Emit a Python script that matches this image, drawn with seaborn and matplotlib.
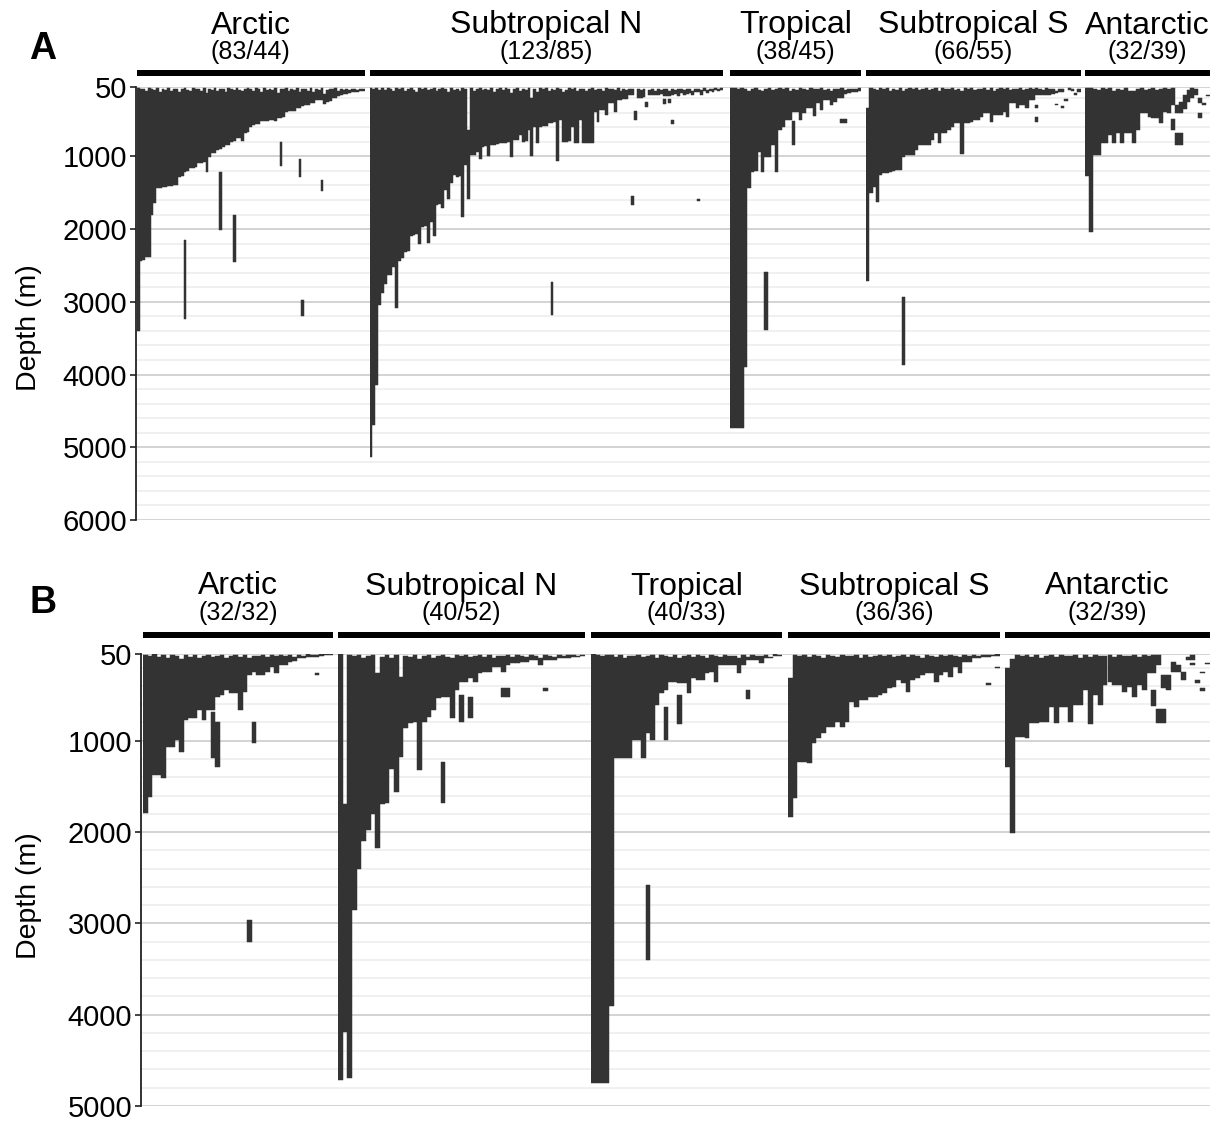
import numpy as np
import pandas as pd
import matplotlib
matplotlib.use("Agg")
import matplotlib.pyplot as plt
from matplotlib.patches import Rectangle
import seaborn as sns

sns.set_theme(style="white")
plt.rcParams["font.family"] = ["Liberation Sans", "DejaVu Sans"]
plt.rcParams["text.color"] = "black"
plt.rcParams["axes.labelcolor"] = "black"

# ---------------------------------------------------------------- data
regions = ["Arctic", "Subtropical N", "Tropical", "Subtropical S", "Antarctic"]
counts_a = ["(83/44)", "(123/85)", "(38/45)", "(66/55)", "(32/39)"]
counts_b = ["(32/32)", "(40/52)", "(40/33)", "(36/36)", "(32/39)"]
ticks_a = [50, 1000, 2000, 3000, 4000, 5000, 6000]
ticks_b = [50, 1000, 2000, 3000, 4000, 5000]

# Panel A: depth ranges (min / max, m) per taxon, ordered within each region
a_arctic_lo = [60, 80, 70, 95, 60, 75, 90, 65, 110, 70,
               85, 60, 100, 75, 80, 120, 70, 60, 90, 105,
               65, 80, 70, 95, 60, 130, 75, 85, 60, 100,
               70, 80, 110, 65, 75, 90, 60, 85, 100, 70,
               60, 80, 95, 65, 75, 110, 60, 85, 70, 90,
               60, 130, 75, 80, 65, 100, 70, 90, 60, 120,
               80, 70, 95, 65, 110, 75, 85, 60, 140, 90,
               70, 80, 65, 100, 75, 90, 70, 85, 80, 75,
               90, 70, 80]
a_arctic_hi = [3400, 2440, 2420, 2380, 2380, 1806, 1645, 1440, 1430, 1420,
               1420, 1410, 1410, 1400, 1400, 1280, 1270, 1210, 1200, 1165,
               1160, 1150, 1095, 1090, 1080, 1210, 1010, 960, 950, 910,
               900, 865, 850, 843, 800, 790, 752, 745, 784, 683,
               670, 590, 570, 555, 550, 520, 515, 510, 500, 495,
               520, 477, 470, 463, 385, 380, 380, 370, 340, 330,
               307, 300, 295, 270, 265, 225, 220, 230, 280, 250,
               240, 200, 195, 170, 160, 147, 140, 125, 120, 115,
               110, 100, 95]
a_arctic_x_idx = [17, 30, 35, 52, 59, 60, 67]
a_arctic_x_lo = [2150, 1220, 1800, 800, 1040, 2980, 1330]
a_arctic_x_hi = [3230, 2010, 2450, 1130, 1280, 3200, 1470]

a_subn_lo = [55, 70, 60, 85, 65, 90, 60, 75, 100, 65,
             80, 60, 95, 70, 60, 85, 110, 65, 75, 60,
             90, 70, 60, 100, 80, 65, 75, 120, 60, 85,
             70, 95, 60, 80, 640, 65, 100, 75, 60, 90,
             70, 85, 60, 110, 75, 65, 90, 60, 80, 130,
             70, 60, 95, 75, 85, 60, 200, 70, 110, 65,
             80, 60, 95, 70, 85, 60, 75, 110, 90, 65,
             80, 60, 100, 75, 70, 95, 80, 65, 85, 70,
             75, 95, 60, 80, 70, 90, 65, 100, 75, 85,
             70, 80, 372, 75, 90, 70, 250, 85, 75, 100,
             70, 90, 80, 75, 95, 70, 85, 80, 75, 90,
             70, 80, 95, 75, 70, 85, 65, 90, 70, 80,
             60, 75, 65]
a_subn_hi = [5130, 4700, 4150, 3050, 2880, 2750, 2630, 2630, 2520, 3090,
             2440, 2400, 2310, 2300, 2090, 2080, 2070, 2210, 1970, 1960,
             2190, 1900, 2100, 1670, 1660, 1710, 1460, 1580, 1370, 1260,
             1280, 1270, 1840, 1120, 1580, 980, 975, 935, 1040, 870,
             860, 995, 845, 840, 835, 815, 810, 810, 805, 1013,
             780, 770, 706, 800, 795, 640, 995, 590, 820, 590,
             585, 580, 540, 535, 530, 1060, 500, 800, 800, 795,
             590, 820, 815, 500, 820, 820, 820, 815, 385, 523,
             362, 360, 431, 270, 265, 385, 225, 220, 215, 210,
             156, 160, 500, 200, 195, 190, 320, 160, 155, 150,
             150, 145, 170, 170, 170, 150, 140, 165, 130, 150,
             140, 125, 160, 120, 110, 156, 100, 130, 95, 110,
             90, 100, 85]
a_subn_x_idx = [63, 91, 102, 104, 105, 114]
a_subn_x_lo = [2730, 1545, 215, 215, 500, 1580]
a_subn_x_hi = [3180, 1668, 280, 270, 560, 1620]

a_trop_lo = [55, 60, 70, 65, 80, 95, 70, 60, 85, 100,
             75, 60, 90, 70, 65, 80, 60, 95, 70, 85,
             60, 75, 90, 65, 80, 70, 60, 85, 75, 95,
             70, 80, 65, 90, 75, 70, 80, 65]
a_trop_hi = [4740, 4740, 4740, 4740, 3900, 1440, 1210, 1205, 940, 1210,
             1005, 1013, 843, 1210, 637, 591, 500, 495, 385, 385,
             500, 400, 340, 340, 445, 270, 362, 225, 225, 293,
             248, 200, 200, 140, 130, 120, 115, 100]
a_trop_x_idx = [10, 18, 32, 33]
a_trop_x_lo = [2585, 520, 480, 490]
a_trop_x_hi = [3390, 840, 540, 545]

a_subs_lo = [340, 60, 75, 90, 65, 80, 60, 100, 70, 85,
             60, 95, 70, 65, 80, 60, 90, 75, 60, 85,
             70, 60, 95, 65, 80, 70, 60, 85, 75, 100,
             65, 80, 60, 90, 70, 75, 60, 85, 65, 95,
             70, 60, 80, 65, 90, 70, 75, 60, 85, 70,
             60, 80, 60, 75, 90, 65, 80, 70, 95, 70,
             80, 215, 65, 80, 130, 75]
a_subs_hi = [2720, 1508, 1416, 1622, 1256, 1233, 1230, 1210, 1205, 1190,
             1187, 1013, 981, 981, 975, 912, 843, 840, 845, 843,
             775, 683, 820, 683, 680, 637, 591, 545, 545, 970,
             545, 540, 523, 500, 500, 454, 408, 405, 523, 431,
             430, 425, 385, 454, 270, 270, 340, 293, 290, 340,
             225, 225, 155, 156, 155, 150, 150, 145, 130, 120,
             110, 235, 90, 100, 156, 120]
a_subs_x_idx = [11, 52, 52, 58, 60]
a_subs_x_lo = [2930, 290, 455, 275, 305]
a_subs_x_hi = [3870, 340, 525, 300, 340]

a_ant_lo = [60, 60, 75, 90, 65, 80, 60, 100, 70, 85,
            65, 95, 100, 70, 60, 85, 75, 65, 90, 70,
            60, 80, 60, 290, 250, 150, 90, 60, 80, 200,
            270, 150]
a_ant_hi = [1270, 2035, 981, 975, 820, 815, 700, 820, 683, 820,
            683, 680, 820, 637, 408, 400, 454, 477, 477, 545,
            385, 408, 300, 410, 400, 350, 250, 200, 160, 270,
            300, 170]
a_ant_x_idx = [22, 23, 24, 29]
a_ant_x_lo = [480, 683, 683, 410]
a_ant_x_hi = [640, 843, 843, 477]

# Panel B
b_arctic_lo = [60, 70, 55, 80, 65, 90, 60, 75, 110, 65,
               80, 60, 95, 70, 60, 85, 70, 60, 90, 75,
               65, 80, 60, 95, 70, 75, 60, 85, 65, 70,
               60, 75, 65, 80, 60, 70, 55, 65, 60, 55,
               55, 55]
b_arctic_hi = [1795, 1612, 1375, 1370, 1410, 1065, 1065, 992, 1120, 773,
               754, 754, 663, 773, 663, 660, 517, 499, 444, 481,
               481, 663, 462, 280, 243, 280, 280, 243, 189, 262,
               170, 165, 134, 130, 97, 95, 80, 80, 80, 75,
               65, 62]
b_arctic_x_idx = [15, 16, 23, 24, 38]
b_arctic_x_lo = [690, 790, 2960, 790, 262]
b_arctic_x_hi = [1190, 1285, 3200, 1030, 284]

b_subn_lo = [55, 1690, 60, 75, 65, 90, 70, 60, 260, 80,
             65, 95, 60, 300, 70, 85, 60, 100, 75, 65,
             90, 70, 60, 80, 95, 65, 75, 60, 85, 70,
             65, 80, 60, 90, 70, 75, 60, 85, 65, 70,
             80, 60, 75, 90, 65, 70, 80, 60, 75, 65,
             60, 70, 60]
b_subn_hi = [4715, 4190, 4690, 2850, 2400, 2100, 1980, 1800, 2180, 1690,
             1685, 1310, 1560, 1175, 865, 810, 800, 1320, 791, 736,
             663, 536, 517, 517, 754, 444, 353, 353, 317, 353,
             262, 243, 243, 189, 189, 243, 170, 152, 152, 134,
             134, 116, 116, 170, 116, 116, 116, 97, 97, 97,
             80, 80, 75]
b_subn_x_idx = [22, 26, 28, 35, 36, 44]
b_subn_x_lo = [1230, 500, 525, 426, 426, 420]
b_subn_x_hi = [1685, 790, 754, 517, 517, 455]

b_trop_lo = [55, 60, 70, 60, 65, 80, 60, 90, 70, 75,
             60, 85, 70, 65, 90, 60, 75, 80, 60, 95,
             70, 65, 80, 60, 75, 90, 65, 70, 85, 60,
             75, 70, 90, 65, 80, 60, 75, 70, 65, 80,
             55, 60]
b_trop_hi = [4745, 4745, 4745, 4745, 3900, 1193, 1190, 1193, 1190, 992,
             990, 1193, 919, 992, 608, 481, 444, 353, 353, 371,
             371, 481, 317, 335, 335, 262, 243, 353, 170, 170,
             170, 165, 262, 170, 116, 116, 116, 152, 97, 97,
             70, 70]
b_trop_x_idx = [12, 16, 19, 34]
b_trop_x_lo = [2580, 627, 500, 444]
b_trop_x_hi = [3400, 992, 817, 546]

b_subs_lo = [316, 60, 70, 65, 80, 60, 75, 90, 65, 70,
             85, 60, 75, 70, 65, 90, 60, 80, 70, 65,
             75, 60, 85, 70, 65, 80, 60, 75, 90, 65,
             70, 80, 60, 75, 65, 70, 85, 60, 75, 65,
             70, 60, 65, 60, 55]
b_subs_hi = [1830, 1630, 1229, 1229, 1247, 1028, 974, 919, 846, 846,
             791, 846, 791, 572, 627, 554, 554, 517, 517, 499,
             481, 426, 408, 335, 371, 462, 335, 317, 280, 262,
             262, 353, 280, 243, 298, 189, 262, 134, 134, 97,
             97, 80, 80, 75, 70]
b_subs_x_idx = [42, 44]
b_subs_x_lo = [371, 189]
b_subs_x_hi = [390, 207]

b_ant_lo = [207, 100, 60, 75, 65, 80, 60, 90, 70, 65,
            85, 60, 75, 70, 60, 90, 65, 80, 60, 75,
            70, 65, 85, 60, 75, 70, 60, 80, 65, 75,
            60, 60, 280, 280, 134, 170, 243, 80, 60, 335,
            426, 152]
b_ant_hi = [1284, 2010, 955, 955, 966, 802, 802, 791, 791, 627,
            809, 627, 627, 791, 608, 608, 444, 817, 499, 608,
            390, 353, 390, 390, 462, 408, 517, 390, 444, 262,
            262, 170, 426, 444, 243, 243, 335, 116, 116, 364,
            452, 160]
b_ant_x_idx = [30, 31, 32, 38, 40]
b_ant_x_lo = [444, 656, 656, 145, 243]
b_ant_x_hi = [620, 809, 809, 170, 262]

# ---------------------------------------------------------------- layout
W, H = 1226, 1121
BAR = "#333333"

panels = [
    dict(letter="A", letter_xy=(29, 59), top=87.3, bottom=520, axis_x=135.5,
         ymax=6000, ticks=ticks_a, counts=counts_a, ylabel_y=328,
         strip_y=(70, 76), name_y=33.5, count_y=59,
         groups=[(137, 364.5), (369.5, 723), (730, 861), (866, 1080.5), (1085, 1210)],
         data=[(a_arctic_lo, a_arctic_hi, a_arctic_x_idx, a_arctic_x_lo, a_arctic_x_hi),
               (a_subn_lo, a_subn_hi, a_subn_x_idx, a_subn_x_lo, a_subn_x_hi),
               (a_trop_lo, a_trop_hi, a_trop_x_idx, a_trop_x_lo, a_trop_x_hi),
               (a_subs_lo, a_subs_hi, a_subs_x_idx, a_subs_x_lo, a_subs_x_hi),
               (a_ant_lo, a_ant_hi, a_ant_x_idx, a_ant_x_lo, a_ant_x_hi)]),
    dict(letter="B", letter_xy=(29, 613), top=654, bottom=1106, axis_x=140.5,
         ymax=5000, ticks=ticks_b, counts=counts_b, ylabel_y=896,
         strip_y=(632, 638), name_y=594.5, count_y=620,
         groups=[(143, 333), (338, 585), (591, 782), (788, 1000), (1005, 1210)],
         data=[(b_arctic_lo, b_arctic_hi, b_arctic_x_idx, b_arctic_x_lo, b_arctic_x_hi),
               (b_subn_lo, b_subn_hi, b_subn_x_idx, b_subn_x_lo, b_subn_x_hi),
               (b_trop_lo, b_trop_hi, b_trop_x_idx, b_trop_x_lo, b_trop_x_hi),
               (b_subs_lo, b_subs_hi, b_subs_x_idx, b_subs_x_lo, b_subs_x_hi),
               (b_ant_lo, b_ant_hi, b_ant_x_idx, b_ant_x_lo, b_ant_x_hi)]),
]

fig = plt.figure(figsize=(W / 100, H / 100), dpi=100)
fig.patch.set_facecolor("white")


def rect(x0, y0, x1, y1):
    """Axes/patch rectangle in figure fractions from pixel corners."""
    return [x0 / W, 1 - y1 / H, (x1 - x0) / W, (y1 - y0) / H]


def floating_bars(ax, lo, hi):
    lo = np.asarray(lo, float)
    hi = np.asarray(hi, float)
    df = pd.DataFrame({"pos": np.arange(len(hi)), "span": hi - lo})
    sns.barplot(data=df, x="pos", y="span", ax=ax, color=BAR, saturation=1,
                width=1, errorbar=None, bottom=lo,
                edgecolor=BAR, linewidth=0.35)


def split_layers(idx, lo, hi):
    layers = []
    for i, a, b in zip(idx, lo, hi):
        for layer in layers:
            if i not in layer:
                layer[i] = (a, b)
                break
        else:
            layers.append({i: (a, b)})
    return layers


for p in panels:
    top, bottom, ymax = p["top"], p["bottom"], p["ymax"]

    # shared depth axis with grid running across all regions
    bg = fig.add_axes(rect(p["axis_x"], top, 1210, bottom))
    bg.set_xlim(0, 1)
    bg.set_ylim(ymax, 50)
    bg.set_xticks([])
    bg.set_yticks(p["ticks"])
    bg.set_yticklabels([str(t) for t in p["ticks"]])
    bg.set_yticks(np.arange(200, ymax + 1, 200), minor=True)
    bg.grid(which="minor", axis="y", color="#ececec", linewidth=1.1)
    bg.grid(which="major", axis="y", color="#cccccc", linewidth=1.2)
    bg.set_axisbelow(True)
    for side in ["top", "right", "bottom"]:
        bg.spines[side].set_visible(False)
    bg.spines["left"].set_color("#222222")
    bg.spines["left"].set_linewidth(1.3)
    bg.tick_params(axis="y", which="major", left=True, length=4.5, width=1.2,
                   color="#222222", labelsize=21, pad=1.5, labelcolor="black")
    bg.tick_params(axis="y", which="minor", left=False, length=0)

    fig.text(29 / W, 1 - p["ylabel_y"] / H, "Depth (m)", rotation=90,
             fontsize=20.5, ha="center", va="center")
    fig.text(p["letter_xy"][0] / W, 1 - p["letter_xy"][1] / H, p["letter"],
             fontsize=27, fontweight="bold", ha="left", va="baseline")

    for (x0, x1), name, cnt, (lo, hi, xi, xlo, xhi) in zip(
            p["groups"], regions, p["counts"], p["data"]):
        ax = fig.add_axes(rect(x0, top, x1, bottom))
        n = len(hi)
        floating_bars(ax, lo, hi)
        for layer in split_layers(xi, xlo, xhi):
            e_lo = [layer[i][0] if i in layer else 0 for i in range(n)]
            e_hi = [layer[i][1] if i in layer else 0 for i in range(n)]
            floating_bars(ax, e_lo, e_hi)
        ax.set_xlim(-0.5, n - 0.5)
        ax.set_ylim(ymax, 50)
        ax.set_axis_off()

        # region strip: name, counts and a heavy rule
        cx = (x0 + x1) / 2
        fig.text(cx / W, 1 - p["name_y"] / H, name, fontsize=23,
                 ha="center", va="baseline")
        fig.text(cx / W, 1 - p["count_y"] / H, cnt, fontsize=18,
                 ha="center", va="baseline")
        sy0, sy1 = p["strip_y"]
        fig.patches.append(Rectangle((x0 / W, 1 - sy1 / H), (x1 - x0) / W,
                                     (sy1 - sy0) / H, transform=fig.transFigure,
                                     facecolor="black", edgecolor="none"))

fig.savefig("out.png", dpi=100, facecolor="white")
